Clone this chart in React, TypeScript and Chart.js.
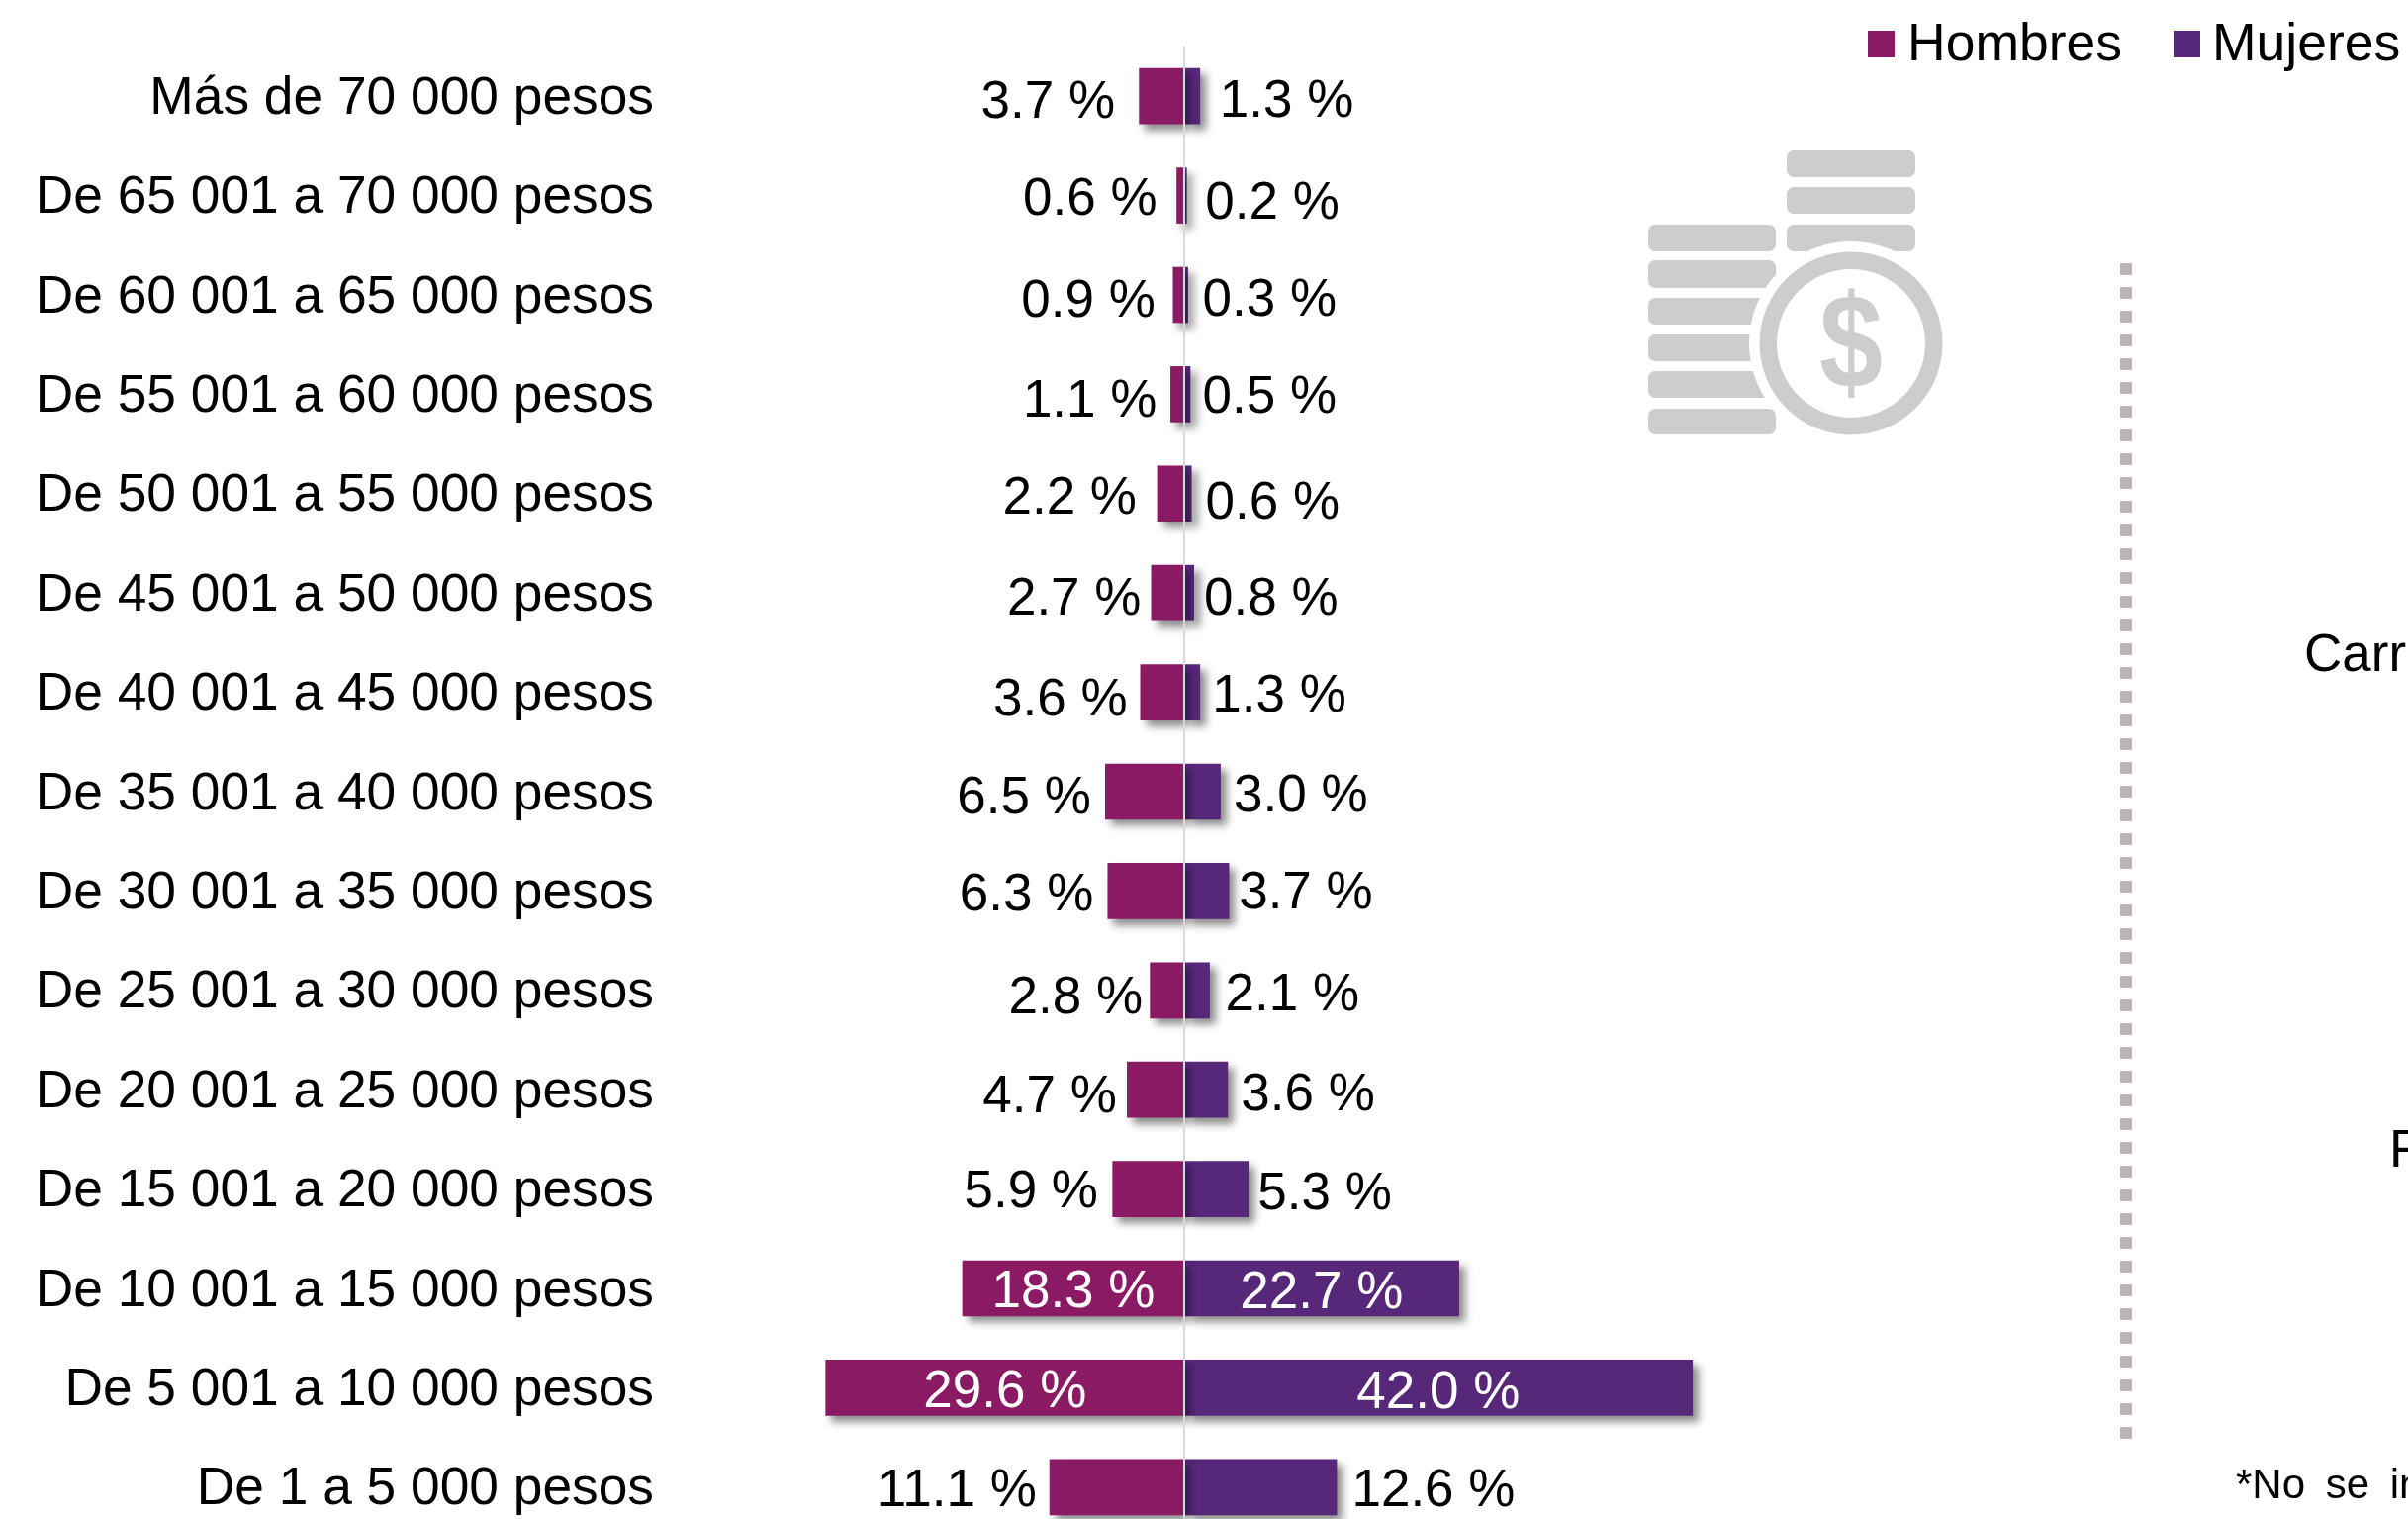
import React, { useEffect, useRef } from "react";
import { Chart, registerables } from "chart.js";

Chart.register(...registerables);

const categories = [
  "Más de 70 000 pesos", "De 65 001 a 70 000 pesos", "De 60 001 a 65 000 pesos",
  "De 55 001 a 60 000 pesos", "De 50 001 a 55 000 pesos", "De 45 001 a 50 000 pesos",
  "De 40 001 a 45 000 pesos", "De 35 001 a 40 000 pesos", "De 30 001 a 35 000 pesos",
  "De 25 001 a 30 000 pesos", "De 20 001 a 25 000 pesos", "De 15 001 a 20 000 pesos",
  "De 10 001 a 15 000 pesos", "De 5 001 a 10 000 pesos", "De 1 a 5 000 pesos",
];
const hombres = [3.7, 0.6, 0.9, 1.1, 2.2, 2.7, 3.6, 6.5, 6.3, 2.8, 4.7, 5.9, 18.3, 29.6, 11.1];
const mujeres = [1.3, 0.2, 0.3, 0.5, 0.6, 0.8, 1.3, 3.0, 3.7, 2.1, 3.6, 5.3, 22.7, 42.0, 12.6];
const seriesNames = ["Hombres", "Mujeres"];

// Hand-placed label nudges seen in the reference (px away from the bar end, px below the bar centre)
const LABEL_GAP_H = [24.5, 20, 18, 14, 21, 10.4, 13.3, 14.5, 14.4, 7.6, 10.5, 14.7, 0, 0, 13.2];
const LABEL_GAP_M = [20, 19, 15, 12.5, 14.4, 10.4, 12.5, 13.5, 10, 16, 13.3, 9.6, 0, 0, 15.4];
const LABEL_DY_H = [6.5, 4.2, 6.5, 7.3, 5, 6.5, 7.3, 5.9, 3.6, 7.6, 6.8, 2.5, 3.1, 4, 4];
const LABEL_DY_M = [5, 7.3, 5, 2.7, 9.3, 6.5, 4.2, 4.3, 2, 4.5, 5.3, 4.6, 3.9, 4.6, 3.4];
const INSIDE_MIN = 15;

const C_H = "#8a1a63";
const C_M = "#57277a";
const FONT = '"Liberation Sans", Arial, sans-serif';
const W = 2434, H = 1600;

const rr = (ctx: CanvasRenderingContext2D, x0: number, y0: number, x1: number, y1: number) => {
  ctx.beginPath();
  ctx.roundRect(x0, y0, x1 - x0, y1 - y0, 7);
  ctx.fill();
};

const decorPlugin = {
  id: "decor",
  beforeDatasetsDraw(chart: any) {
    const ctx: CanvasRenderingContext2D = chart.ctx;
    ctx.save();
    // coins icon
    ctx.fillStyle = "#cdcdcd";
    for (const [a, b] of [[152, 179], [189, 216], [227, 254]]) rr(ctx, 1806, a, 1936, b);
    for (const [a, b] of [[227, 254], [263, 291], [301, 328], [338, 365], [375, 402], [413, 439]]) rr(ctx, 1666, a, 1795, b);
    ctx.fillStyle = "#fff";
    ctx.beginPath(); ctx.arc(1871, 347, 103, 0, Math.PI * 2); ctx.fill();
    ctx.fillStyle = "#cdcdcd";
    ctx.beginPath(); ctx.arc(1871, 347, 92.5, 0, Math.PI * 2); ctx.arc(1871, 347, 75, 0, Math.PI * 2, true); ctx.fill();
    ctx.save();
    ctx.translate(1871, 355);
    ctx.scale(0.9, 1.06);
    ctx.font = `bold 128px ${FONT}`;
    ctx.textAlign = "center"; ctx.textBaseline = "middle";
    ctx.fillText("$", 0, 0);
    ctx.restore();
    // dotted divider
    ctx.strokeStyle = "#b9b4b5"; ctx.lineWidth = 12; ctx.setLineDash([12, 12]);
    ctx.beginPath(); ctx.moveTo(2149, 266); ctx.lineTo(2149, 1454); ctx.stroke();
    ctx.setLineDash([]);
    // legend
    ctx.textBaseline = "alphabetic"; ctx.textAlign = "left"; ctx.font = `53.5px ${FONT}`;
    const lx = [[1888, 1928], [2197, 2236]];
    seriesNames.forEach((n, i) => {
      ctx.fillStyle = i ? C_M : C_H;
      ctx.fillRect(lx[i][0], 31, 27, 27);
      ctx.fillStyle = "#000";
      ctx.fillText(n, lx[i][1], 61);
    });
    // cropped side text
    ctx.font = `53px ${FONT}`;
    ctx.fillText("Carr", 2329, 678);
    ctx.fillText("F", 2415, 1179);
    ctx.font = `42px ${FONT}`;
    (ctx as any).wordSpacing = "9px";
    ctx.fillText("*No se in", 2260, 1514);
    (ctx as any).wordSpacing = "0px";
    ctx.restore();
  },
};

const shadowPlugin = {
  id: "barShadow",
  beforeDatasetDraw(chart: any) {
    const ctx = chart.ctx;
    ctx.save();
    ctx.shadowColor = "rgba(0,0,0,0.45)";
    ctx.shadowBlur = 8;
    ctx.shadowOffsetX = 6;
    ctx.shadowOffsetY = 6;
  },
  afterDatasetDraw(chart: any) {
    chart.ctx.restore();
  },
};

const valueLabelPlugin = {
  id: "valueLabels",
  afterDraw(chart: any) {
    const ctx: CanvasRenderingContext2D = chart.ctx;
    const xs = chart.scales.x, ys = chart.scales.y;
    ctx.save();
    ctx.font = `53px ${FONT}`;
    ctx.textBaseline = "middle";
    const put = (v: number, i: number, dir: number) => {
      const end = xs.getPixelForValue(dir * v), zero = xs.getPixelForValue(0);
      const y = ys.getPixelForValue(i) + (dir < 0 ? LABEL_DY_H[i] : LABEL_DY_M[i]) + 1;
      const t = v.toFixed(1) + " %";
      if (v >= INSIDE_MIN) {
        ctx.fillStyle = "#fff"; ctx.textAlign = "center";
        ctx.fillText(t, (end + zero) / 2, y);
      } else {
        ctx.fillStyle = "#000"; ctx.textAlign = dir < 0 ? "right" : "left";
        ctx.fillText(t, end + dir * (dir < 0 ? LABEL_GAP_H[i] : LABEL_GAP_M[i]), y);
      }
    };
    hombres.forEach((v, i) => put(v, i, -1));
    mujeres.forEach((v, i) => put(v, i, 1));
    ctx.restore();
  },
};

export default function App() {
  const ref = useRef<HTMLCanvasElement>(null);
  useEffect(() => {
    const chart = new Chart(ref.current!, {
      type: "bar",
      data: {
        labels: categories,
        datasets: [
          { label: seriesNames[0], data: hombres.map((v) => -v), backgroundColor: C_H },
          { label: seriesNames[1], data: mujeres, backgroundColor: C_M },
        ],
      },
      options: {
        indexAxis: "y",
        responsive: false,
        animation: false,
        layout: { padding: { top: 47, bottom: 47, left: 0, right: 503 } },
        plugins: { legend: { display: false }, tooltip: { enabled: false } },
        datasets: { bar: { barThickness: 56 } },
        scales: {
          x: {
            type: "linear", stacked: true, min: -42, max: 60,
            ticks: { display: false, stepSize: 6 },
            border: { display: false },
            grid: {
              z: 1, drawTicks: false, lineWidth: 2,
              color: (c: any) => (c.tick && c.tick.value === 0 ? "#d9d9d9" : "rgba(0,0,0,0)"),
            },
          },
          y: {
            type: "category", stacked: true,
            afterFit: (s: any) => { s.width = 683; },
            grid: { display: false },
            border: { display: false },
            ticks: {
              color: "#000", font: { size: 53.3, family: FONT }, padding: 14, labelOffset: 3,
              autoSkip: false, crossAlign: "near", maxRotation: 0, minRotation: 0,
            },
          },
        },
      } as any,
      plugins: [decorPlugin, shadowPlugin, valueLabelPlugin],
    });
    return () => chart.destroy();
  }, []);
  return (
    <div style={{ position: "fixed", left: 0, top: 0, width: W, height: 1535, overflow: "hidden", background: "#fff" }}>
      <canvas ref={ref} width={W} height={H} style={{ display: "block" }} />
    </div>
  );
}
